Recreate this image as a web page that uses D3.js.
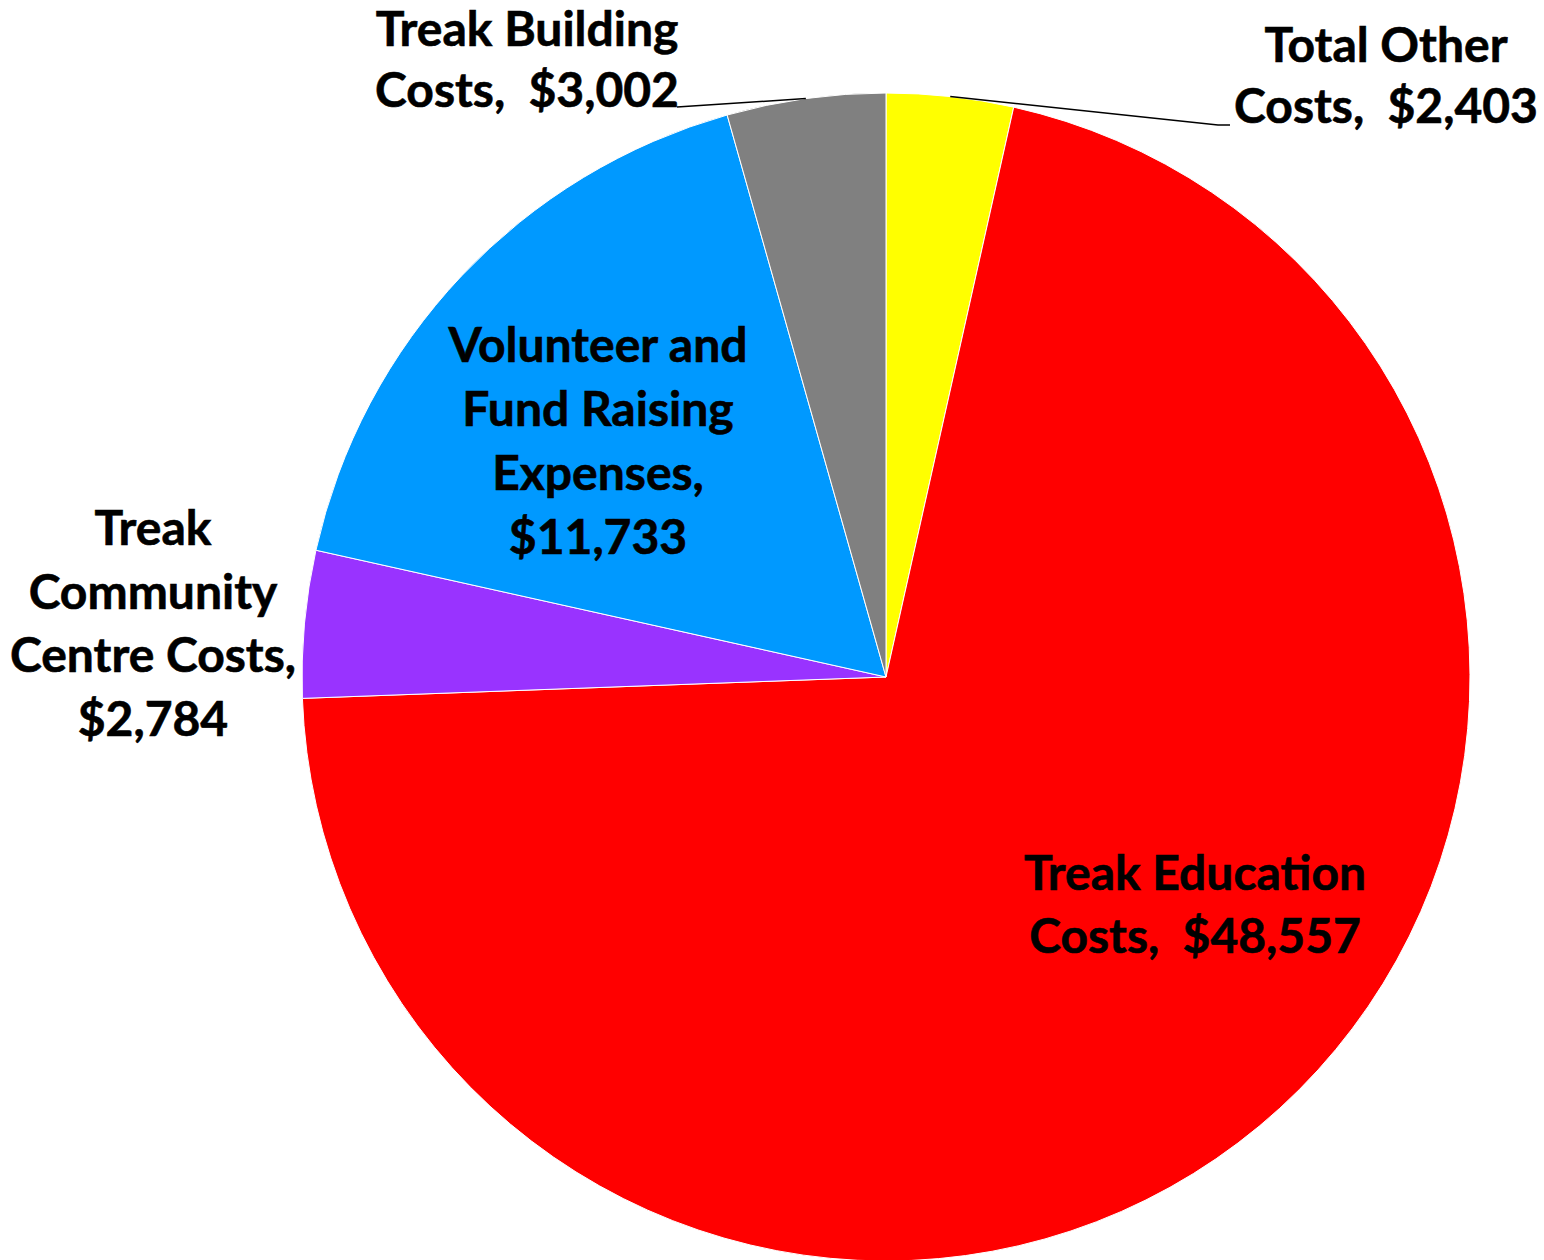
<!DOCTYPE html>
<html><head><meta charset="utf-8">
<script src="https://cdn.jsdelivr.net/npm/d3@7"></script>
<style>body{margin:0;background:#fff}svg{display:block}</style>
</head><body>
<svg id="c" width="1544" height="1260"></svg>
<script>
const categories = ["Total Other Costs", "Treak Education Costs", "Treak Community Centre Costs", "Volunteer and Fund Raising Expenses", "Treak Building Costs"];
const values = [2403, 48557, 2784, 11733, 3002];
const colors = ["#FFFF00", "#FF0000", "#9933FF", "#0099FF", "#808080"];
const labelLines = [
  ["Total Other", "Costs,  $2,403"],
  ["Treak Education", "Costs,  $48,557"],
  ["Treak", "Community", "Centre Costs,", "$2,784"],
  ["Volunteer and", "Fund Raising", "Expenses,", "$11,733"],
  ["Treak Building", "Costs,  $3,002"]
];

const svg = d3.select("#c");
const cx = 886, cy = 677, R = 584;
const g = svg.append("g").attr("transform", `translate(${cx},${cy})`);
const data = categories.map((c, i) => ({c, v: values[i], col: colors[i], lines: labelLines[i]}));
const pie = d3.pie().value(d => d.v).sort(null);
const arcs = pie(data);
const arc = d3.arc().innerRadius(0).outerRadius(R);
g.selectAll("path").data(arcs).join("path")
  .attr("d", arc).attr("fill", d => d.data.col)
  .attr("stroke", "#fff").attr("stroke-width", 1);

const labelPos = [
  {x: 1386, y: 62, lh: 61, leader: [[1230,125],[1218,125]]},
  {x: 1195, y: 890, lh: 63},
  {x: 153, y: 545, lh: 63.5},
  {x: 598, y: 362, lh: 64},
  {x: 527, y: 46, lh: 61, leader: [[677,107]]}
];
const outer = d3.arc().innerRadius(R).outerRadius(R);
arcs.forEach((a, i) => {
  const p = labelPos[i];
  if (p.leader) {
    const c = outer.centroid(a);
    const pts = [...p.leader, [c[0]+cx, c[1]+cy]];
    svg.append("path").attr("d", d3.line()(pts)).attr("fill", "none")
      .attr("stroke", "#000").attr("stroke-width", 1.5);
  }
  const t = svg.append("text").attr("text-anchor", "middle")
    .attr("font-family", "Lato, 'Open Sans', sans-serif").attr("font-weight", 700)
    .attr("font-size", 48).attr("fill", "#000")
    .attr("stroke", "#000").attr("stroke-width", 0.6)
    .style("white-space", "pre");
  a.data.lines.forEach((ln, j) => {
    t.append("tspan").attr("x", p.x).attr("y", p.y + j * p.lh).text(ln);
  });
});
</script>
</body></html>
